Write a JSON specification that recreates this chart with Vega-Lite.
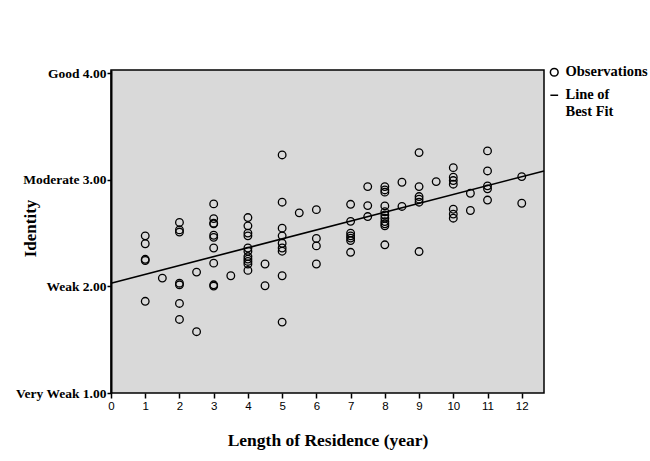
{
  "$schema": "https://vega.github.io/schema/vega-lite/v6.json",
  "width": 433,
  "height": 323,
  "autosize": {"type": "none"},
  "padding": {"left": 111, "top": 70, "right": 106, "bottom": 68},
  "background": "white",
  "config": {
    "view": {"fill": "#d9d9d9", "stroke": "#000000", "strokeWidth": 1.5}
  },
  "datasets": {
    "obs": [
      {"years": 1, "identity": 2.474}, {"years": 1, "identity": 2.40}, {"years": 1, "identity": 2.254}, {"years": 1, "identity": 2.243}, {"years": 1, "identity": 1.86},
      {"years": 1.5, "identity": 2.078},
      {"years": 2, "identity": 2.60}, {"years": 2, "identity": 2.53}, {"years": 2, "identity": 2.51}, {"years": 2, "identity": 2.03}, {"years": 2, "identity": 2.015}, {"years": 2, "identity": 1.84}, {"years": 2, "identity": 1.69},
      {"years": 2.5, "identity": 2.134}, {"years": 2.5, "identity": 1.575},
      {"years": 3, "identity": 2.774}, {"years": 3, "identity": 2.636}, {"years": 3, "identity": 2.593}, {"years": 3, "identity": 2.587}, {"years": 3, "identity": 2.48}, {"years": 3, "identity": 2.46}, {"years": 3, "identity": 2.36}, {"years": 3, "identity": 2.218}, {"years": 3, "identity": 2.015}, {"years": 3, "identity": 2.003},
      {"years": 3.5, "identity": 2.10},
      {"years": 4, "identity": 2.646}, {"years": 4, "identity": 2.568}, {"years": 4, "identity": 2.50}, {"years": 4, "identity": 2.474}, {"years": 4, "identity": 2.36}, {"years": 4, "identity": 2.33}, {"years": 4, "identity": 2.28}, {"years": 4, "identity": 2.256}, {"years": 4, "identity": 2.234}, {"years": 4, "identity": 2.21}, {"years": 4, "identity": 2.15},
      {"years": 4.5, "identity": 2.21}, {"years": 4.5, "identity": 2.006},
      {"years": 5, "identity": 3.233}, {"years": 5, "identity": 2.79}, {"years": 5, "identity": 2.546}, {"years": 5, "identity": 2.474}, {"years": 5, "identity": 2.405}, {"years": 5, "identity": 2.36}, {"years": 5, "identity": 2.33}, {"years": 5, "identity": 2.10}, {"years": 5, "identity": 1.665},
      {"years": 5.5, "identity": 2.69},
      {"years": 6, "identity": 2.72}, {"years": 6, "identity": 2.45}, {"years": 6, "identity": 2.38}, {"years": 6, "identity": 2.21},
      {"years": 7, "identity": 2.77}, {"years": 7, "identity": 2.61}, {"years": 7, "identity": 2.50}, {"years": 7, "identity": 2.474}, {"years": 7, "identity": 2.453}, {"years": 7, "identity": 2.43}, {"years": 7, "identity": 2.32},
      {"years": 7.5, "identity": 2.936}, {"years": 7.5, "identity": 2.758}, {"years": 7.5, "identity": 2.655},
      {"years": 8, "identity": 2.936}, {"years": 8, "identity": 2.905}, {"years": 8, "identity": 2.884}, {"years": 8, "identity": 2.755}, {"years": 8, "identity": 2.70}, {"years": 8, "identity": 2.67}, {"years": 8, "identity": 2.64}, {"years": 8, "identity": 2.608}, {"years": 8, "identity": 2.587}, {"years": 8, "identity": 2.568}, {"years": 8, "identity": 2.39},
      {"years": 8.5, "identity": 2.977}, {"years": 8.5, "identity": 2.75},
      {"years": 9, "identity": 3.255}, {"years": 9, "identity": 2.936}, {"years": 9, "identity": 2.843}, {"years": 9, "identity": 2.818}, {"years": 9, "identity": 2.79}, {"years": 9, "identity": 2.327},
      {"years": 9.5, "identity": 2.983},
      {"years": 10, "identity": 3.114}, {"years": 10, "identity": 3.024}, {"years": 10, "identity": 2.993}, {"years": 10, "identity": 2.959}, {"years": 10, "identity": 2.724}, {"years": 10, "identity": 2.678}, {"years": 10, "identity": 2.64},
      {"years": 10.5, "identity": 2.874}, {"years": 10.5, "identity": 2.712},
      {"years": 11, "identity": 3.271}, {"years": 11, "identity": 3.083}, {"years": 11, "identity": 2.943}, {"years": 11, "identity": 2.915}, {"years": 11, "identity": 2.81},
      {"years": 12, "identity": 3.03}, {"years": 12, "identity": 2.78}
    ],
    "fit": [
      {"years": 0, "identity": 2.03},
      {"years": 12.65, "identity": 3.083}
    ]
  },
  "encoding": {
    "x": {
      "field": "years", "type": "quantitative",
      "scale": {"domain": [0, 12.65], "nice": false, "zero": false},
      "axis": {
        "values": [0,1,2,3,4,5,6,7,8,9,10,11,12],
        "grid": false, "domain": false,
        "labelFlush": false,
        "labelFont": "Liberation Sans", "labelFontSize": 11.5, "labelColor": "#000000", "labelPadding": 2,
        "tickSize": 5, "tickColor": "#000000", "tickWidth": 1.5,
        "title": "Length of Residence (year)",
        "titleFont": "Liberation Serif", "titleFontSize": 17.5, "titleFontWeight": "bold", "titleColor": "#000000",
        "titlePadding": 20
      }
    },
    "y": {
      "field": "identity", "type": "quantitative",
      "scale": {"domain": [1, 4.03], "nice": false, "zero": false},
      "axis": {
        "values": [1,2,3,4],
        "grid": false, "domainWidth": 2, "domainColor": "#000000",
        "labelExpr": "datum.value == 4 ? 'Good 4.00' : datum.value == 3 ? 'Moderate 3.00' : datum.value == 2 ? 'Weak 2.00' : 'Very Weak 1.00'",
        "labelFont": "Liberation Serif", "labelFontSize": 13.5, "labelFontWeight": "bold", "labelColor": "#000000", "labelPadding": 1,
        "tickSize": 4, "tickColor": "#000000", "tickWidth": 1.5,
        "title": "Identity",
        "titleFont": "Liberation Serif", "titleFontSize": 17, "titleFontWeight": "bold", "titleColor": "#000000",
        "titleX": -81, "titleY": 158, "titleAngle": -90, "titleAlign": "center", "titleBaseline": "middle"
      }
    }
  },
  "layer": [
    {
      "data": {"name": "obs"},
      "mark": {"type": "point", "filled": false, "stroke": "#000000", "strokeWidth": 1.3, "size": 58, "opacity": 1},
      "encoding": {
        "shape": {
          "datum": "Observations", "type": "nominal",
          "scale": {"domain": ["Observations", "Line of Best Fit"], "range": ["circle", "stroke"]},
          "legend": {
            "title": null,
            "orient": "none", "legendX": 436, "legendY": -5,
            "labelFont": "Liberation Serif", "labelFontSize": 14.5, "labelFontWeight": "bold", "labelColor": "#000000",
            "labelExpr": "datum.value == 'Line of Best Fit' ? ['Line of', 'Best Fit'] : datum.value",
            "symbolStrokeColor": "#000000", "symbolFillColor": "transparent", "symbolStrokeWidth": 1.5, "symbolSize": 60,
            "rowPadding": 7, "labelOffset": 4, "padding": 0
          }
        }
      }
    },
    {
      "data": {"name": "fit"},
      "mark": {"type": "line", "color": "#000000", "strokeWidth": 1.6},
      "encoding": {}
    }
  ]
}
